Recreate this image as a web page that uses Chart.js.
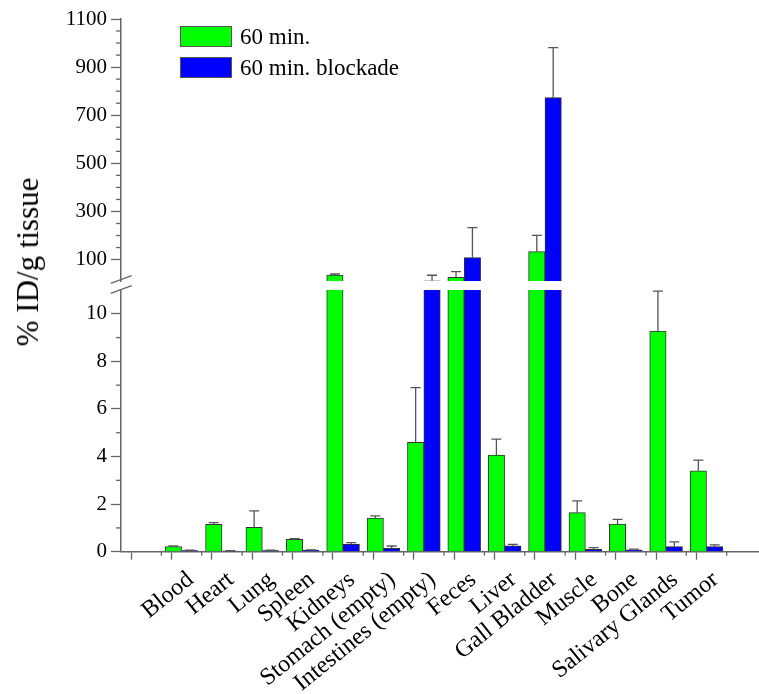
<!DOCTYPE html>
<html>
<head>
<meta charset="utf-8">
<script src="https://cdn.jsdelivr.net/npm/chart.js@4.4.1/dist/chart.umd.min.js"></script>
<style>
  html, body { margin: 0; padding: 0; background: #fff; }
  #wrap { position: relative; width: 759px; height: 694px; overflow: hidden; font-family: 'Liberation Serif', 'Times New Roman', serif; }
  #wrap canvas { position: absolute; left: 0; top: 0; }
  #ytitle { position: absolute; left: 28px; top: 262px; transform: translate(-50%, -50%) rotate(-90deg); font-size: 31px; white-space: nowrap; color: #000; }
  #legend { position: absolute; left: 180px; top: 26px; }
  .row { display: flex; align-items: center; height: 21px; margin-bottom: 10px; font-size: 23px; color: #000; }
  .sw { width: 50px; height: 19px; border: 1px solid #555; margin-right: 8px; }
</style>
</head>
<body>
<div id="wrap">
  <canvas id="upper" width="759" height="694"></canvas>
  <canvas id="lower" width="759" height="694"></canvas>
  <div id="ytitle">% ID/g tissue</div>
  <div id="legend"></div>
</div>
<script>
// data
const categories = ['Blood', 'Heart', 'Lung', 'Spleen', 'Kidneys', 'Stomach (empty)', 'Intestines (empty)',
                    'Feces', 'Liver', 'Gall Bladder', 'Muscle', 'Bone', 'Salivary Glands', 'Tumor'];
const seriesNames = ['60 min.', '60 min. blockade'];
const min60       = [0.22, 1.15, 1.02, 0.52, 36, 1.41, 4.6, 26, 4.06, 133, 1.64, 1.16, 9.27, 3.4];
const min60Err    = [0.02, 0.07, 0.7, 0.03, 4, 0.1, 2.3, 24, 0.67, 68, 0.5, 0.2, 1.68, 0.45];
const blockade    = [0.05, 0.03, 0.05, 0.07, 0.32, 0.14, 12, 108, 0.25, 773, 0.1, 0.08, 0.21, 0.21];
const blockadeErr = [0.01, 0.01, 0.01, 0.01, 0.06, 0.1, 23, 125, 0.06, 208, 0.07, 0.03, 0.2, 0.08];
const upperTicks  = [100, 300, 500, 700, 900, 1100];
const lowerTicks  = [0, 2, 4, 6, 8, 10];

const GREEN = '#00ff00';
const BLUE = '#0000ff';
const AXIS = '#666';
const ERR = '#555';
const FONT = { family: 'Liberation Serif', size: 21 };
const XFONT = { family: 'Liberation Serif', size: 24 };

Chart.defaults.font.family = 'Liberation Serif';

// legend
const legendEl = document.getElementById('legend');
[GREEN, BLUE].forEach((col, i) => {
    const row = document.createElement('div');
    row.className = 'row';
    const sw = document.createElement('span');
    sw.className = 'sw';
    sw.style.background = col;
    row.appendChild(sw);
    row.appendChild(document.createTextNode(seriesNames[i]));
    legendEl.appendChild(row);
});

const toPoints = vals => vals.map((v, i) => ({ x: i + 1, y: v }));
const tickVal = c => (c.tick ? c.tick.value : NaN);

function makeDatasets() {
    return [
        { label: seriesNames[0], data: toPoints(min60), errors: min60Err, backgroundColor: GREEN },
        { label: seriesNames[1], data: toPoints(blockade), errors: blockadeErr, backgroundColor: BLUE }
    ].map(d => Object.assign(d, {
        borderColor: '#333', borderWidth: 1, clip: 0, barThickness: 16.4
    }));
}

// error bars, clipped to the chart area
const errorBars = {
    id: 'errorBars',
    afterDatasetsDraw(chart) {
        const { ctx, chartArea: a } = chart;
        ctx.save();
        ctx.beginPath();
        ctx.rect(a.left, a.top, a.right - a.left, a.bottom - a.top);
        ctx.clip();
        ctx.strokeStyle = ERR;
        ctx.lineWidth = 1.3;
        chart.data.datasets.forEach((ds, di) => {
            const meta = chart.getDatasetMeta(di);
            const yScale = chart.scales[meta.yAxisID];
            meta.data.forEach((bar, i) => {
                const hi = ds.data[i].y + ds.errors[i];
                if (hi <= yScale.min) return;   // whole bar sits below this segment
                const top = yScale.getPixelForValue(hi);
                ctx.beginPath();
                ctx.moveTo(bar.x, bar.y);
                ctx.lineTo(bar.x, top);
                ctx.moveTo(bar.x - 5, top);
                ctx.lineTo(bar.x + 5, top);
                ctx.stroke();
            });
        });
        ctx.restore();
    }
};

// short unlabeled tick marks
function minorTicks(rules) {
    return {
        id: 'minorTicks',
        afterDraw(chart) {
            const ctx = chart.ctx;
            ctx.save();
            ctx.strokeStyle = AXIS;
            ctx.lineWidth = 1.3;
            Object.keys(rules).forEach(id => {
                const scale = chart.scales[id];
                scale.ticks.forEach(t => {
                    if (!rules[id](t.value)) return;
                    const p = scale.getPixelForValue(t.value);
                    ctx.beginPath();
                    if (scale.isHorizontal()) {
                        ctx.moveTo(p, scale.top);
                        ctx.lineTo(p, scale.top + 4);
                    } else {
                        ctx.moveTo(scale.right, p);
                        ctx.lineTo(scale.right - 5, p);
                    }
                    ctx.stroke();
                });
            });
            ctx.restore();
        }
    };
}

// the // marks on the broken axis
const breakMarks = {
    id: 'breakMarks',
    afterDraw(chart) {
        const { ctx } = chart;
        const y = chart.scales.y;
        const x0 = y.right, t = y.top;
        ctx.save();
        ctx.strokeStyle = AXIS;
        ctx.lineWidth = 1.3;
        [[3.3, -4.3], [-6.7, -14.3]].forEach(([a, b]) => {
            ctx.beginPath();
            ctx.moveTo(x0 - 10.3, t + a);
            ctx.lineTo(x0 + 10.7, t + b);
            ctx.stroke();
        });
        ctx.restore();
    }
};

function xScale(show) {
    return {
        type: 'linear', min: -0.5, max: 15.3, offset: false, display: show,
        border: { color: AXIS, width: 1.5 },
        grid: {
            drawOnChartArea: false, tickLength: 8, tickWidth: 1.3,
            tickColor: c => (Number.isInteger(tickVal(c)) && tickVal(c) >= 0) ? AXIS : 'transparent'
        },
        ticks: {
            stepSize: 0.5, autoSkip: false, minRotation: 39, maxRotation: 39,
            color: '#000', font: XFONT, padding: 6, labelOffset: 9,
            callback: v => (Number.isInteger(v) && v >= 1 && v <= categories.length) ? categories[v - 1] : ''
        },
        afterFit: s => {
            s.paddingLeft = 0;
            s.paddingRight = 0;
            if (show) s.height = 694 - 551.7;
        }
    };
}

const common = {
    responsive: false,
    animation: false,
    plugins: { legend: { display: false }, tooltip: { enabled: false } }
};

// upper segment 11 .. 1100
new Chart(document.getElementById('upper'), {
    type: 'bar',
    data: { datasets: makeDatasets() },
    options: Object.assign({}, common, {
        layout: { padding: { top: 19, bottom: 413, left: 0, right: 0 } },
        scales: {
            x: xScale(false),
            y: {
                type: 'linear', min: 11, max: 1100,
                afterFit: s => { s.width = 121; },
                border: { color: AXIS, width: 1.5 },
                grid: {
                    drawOnChartArea: false, tickLength: 10, tickWidth: 1.3,
                    tickColor: c => upperTicks.includes(tickVal(c)) ? AXIS : 'transparent'
                },
                ticks: {
                    stepSize: 50, autoSkip: false, padding: 4, color: '#000', font: FONT,
                    callback: v => upperTicks.includes(v) ? v : ''
                }
            }
        }
    }),
    plugins: [errorBars, minorTicks({ y: v => v > 11 && !upperTicks.includes(v) })]
});

// lower segment 0 .. 11
new Chart(document.getElementById('lower'), {
    type: 'bar',
    data: { datasets: makeDatasets() },
    options: Object.assign({}, common, {
        layout: { padding: { top: 290, bottom: 0, left: 0, right: 0 } },
        scales: {
            x: xScale(true),
            y: {
                type: 'linear', min: 0, max: 11,
                afterFit: s => { s.width = 121; },
                border: { color: AXIS, width: 1.5 },
                grid: {
                    drawOnChartArea: false, tickLength: 10, tickWidth: 1.3,
                    tickColor: c => lowerTicks.includes(tickVal(c)) ? AXIS : 'transparent'
                },
                ticks: {
                    stepSize: 1, autoSkip: false, padding: 4, color: '#000', font: FONT,
                    callback: v => lowerTicks.includes(v) ? v : ''
                }
            }
        }
    }),
    plugins: [errorBars, breakMarks, minorTicks({
        y: v => v > 0 && v < 10 && !lowerTicks.includes(v),
        x: v => v > 0 && v < 15 && !Number.isInteger(v)
    })]
});
</script>
</body>
</html>
